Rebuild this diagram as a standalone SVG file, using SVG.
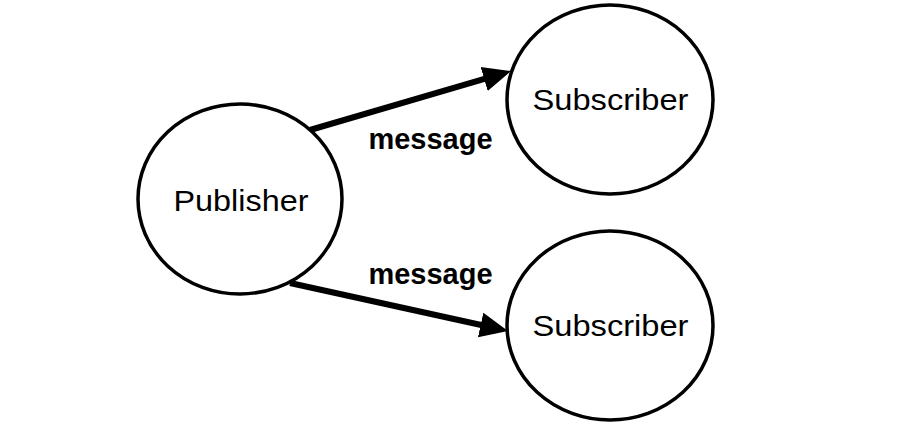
<svg xmlns="http://www.w3.org/2000/svg" width="920" height="441" viewBox="0 0 920 441">
<style>
.node ellipse{fill:#fff;stroke:#000;stroke-width:3.5}
.lbl{font-family:"Liberation Sans",Arial,sans-serif;font-size:30px;fill:#000;text-anchor:middle}
.edge{stroke:#000;stroke-width:6;fill:none}
.elbl{font-family:"Liberation Sans",Arial,sans-serif;font-size:29px;font-weight:bold;fill:#000;text-anchor:middle}
</style>
<defs>
<marker id="arr" markerUnits="userSpaceOnUse" markerWidth="28" markerHeight="28" refX="11" refY="14" orient="auto">
<path d="M0,1.5 L28,14 L0,26.5 Z" fill="#000"/>
</marker>
</defs>
<rect width="920" height="441" fill="#fff"/>
<g id="connectors">
<line class="edge" x1="310" y1="130" x2="494.7" y2="75.8" marker-end="url(#arr)"/>
<line class="edge" x1="290" y1="283" x2="491.4" y2="327.3" marker-end="url(#arr)"/>
<text class="elbl" x="430.5" y="149" textLength="124" lengthAdjust="spacingAndGlyphs">message</text>
<text class="elbl" x="430.5" y="284" textLength="124" lengthAdjust="spacingAndGlyphs">message</text>
</g>
<g id="publisher" class="node">
<ellipse cx="240" cy="199" rx="102" ry="95"/>
<text class="lbl" x="241" y="211" textLength="135" lengthAdjust="spacingAndGlyphs">Publisher</text>
</g>
<g id="subscriber1" class="node">
<ellipse cx="610" cy="99.5" rx="103" ry="94.5"/>
<text class="lbl" x="610.5" y="110" textLength="156" lengthAdjust="spacingAndGlyphs">Subscriber</text>
</g>
<g id="subscriber2" class="node">
<ellipse cx="610" cy="325.5" rx="103" ry="94.5"/>
<text class="lbl" x="610.5" y="336" textLength="156" lengthAdjust="spacingAndGlyphs">Subscriber</text>
</g>
</svg>
